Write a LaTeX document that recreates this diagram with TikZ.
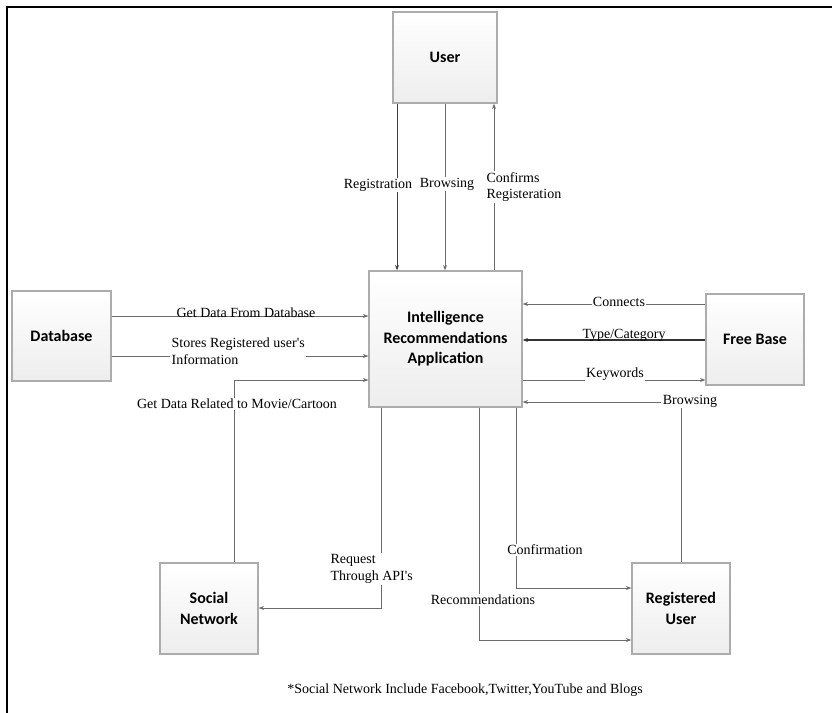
\documentclass[tikz,border=0pt]{standalone}
\usepackage{fontspec}
\setmainfont{Liberation Serif}
\newfontfamily\boxfont{Carlito}
\usetikzlibrary{arrows.meta,shadows}
\begin{document}
\begin{tikzpicture}[x=0.75pt,y=-0.75pt,
  box/.style={draw=gray!65,line width=1pt,top color=white,bottom color=gray!14,
    drop shadow={opacity=0.25,shadow xshift=1pt,shadow yshift=-1pt},
    font=\boxfont\bfseries\fontsize{12}{15.4}\selectfont,align=center,inner sep=2pt},
  conn/.style={draw=black!58,line width=0.6pt,-{Stealth[length=4pt,width=3pt]}},
  lab/.style={font=\fontsize{10.5}{12.5}\selectfont,inner sep=1pt},
  labw/.style={lab,fill=white},
]
\useasboundingbox (0,0) rectangle (832,713);
\draw[line width=1.8pt] (7,713) -- (7,7) -- (832,7);

\node[box,minimum width=78pt,minimum height=68.25pt] (user) at (445,57.5) {User};
\node[box,minimum width=114.75pt,minimum height=102pt] (app) at (445.5,339) {Intelligence\\Recommendations\\Application};
\node[box,minimum width=74.25pt,minimum height=67.5pt] (db) at (61.5,336) {Database};
\node[box,minimum width=73.5pt,minimum height=68.25pt] (fb) at (755,339.5) {Free Base};
\node[box,minimum width=73.5pt,minimum height=68.25pt] (sn) at (209,608.5) {Social\\Network};
\node[box,minimum width=73.5pt,minimum height=68.25pt] (ru) at (681,608.5) {Registered\\User};

% User <-> App
\draw[conn,draw=black!75] (397,0 |- user.south) -- (397,0 |- app.north);
\node[labw] (lreg) at (378,185) {Registration};
\draw[conn] (445,0 |- user.south) -- (445,0 |- app.north);
\node[labw] (lbrw) at (447,184) {Browsing};
\draw[conn] (494,0 |- app.north) -- (494,0 |- user.south);
\node[labw,anchor=west,align=left] (lconf) at (485,187) {Confirms\\Registeration};

% Database -> App
\draw[conn] (db.east |- 0,316) -- (app.west |- 0,316);
\node[lab] (lget) at (246,313) {Get Data From Database};
\draw[conn] (db.east |- 0,356) -- (app.west |- 0,356);
\node[labw,anchor=west,align=left] (lsto) at (170,351) {Stores Registered user\textquotesingle s\\Information};

% Social network -> App
\coordinate (c1) at (234,380);
\draw[conn] (234,0 |- sn.north) -- (c1) -- (app.west |- c1);
\node[labw] (lmov) at (237,404) {Get Data Related to Movie/Cartoon};

% Free Base <-> App
\draw[conn] (fb.west |- 0,304) -- (app.east |- 0,304);
\node[labw] (lcon) at (619,302) {Connects};
\draw[conn,draw=black!80,line width=1pt] (fb.west |- 0,340) -- (app.east |- 0,340);
\node[lab] (ltyp) at (624,335) {Type/Category};
\draw[conn] (app.east |- 0,380) -- (fb.west |- 0,380);
\node[labw] (lkey) at (615,374) {Keywords};

% Registered user -> App
\coordinate (c2) at (681,402);
\draw[conn] (ru.north) -- (c2) -- (app.east |- c2);
\node[labw] (lbr2) at (690,401) {Browsing};

% App -> Social network
\coordinate (c3) at (381,608);
\draw[conn] (381,0 |- app.south) -- (c3) -- (sn.east |- c3);
\node[labw,anchor=west,align=left] (lapi) at (329,569) {Request\\Through API\textquotesingle s};

% App -> Registered user
\coordinate (c4) at (516,588);
\draw[conn] (516,0 |- app.south) -- (c4) -- (ru.west |- c4);
\node[labw] (lcfm) at (545,550) {Confirmation};
\coordinate (c5) at (479,640);
\draw[conn] (479,0 |- app.south) -- (c5) -- (ru.west |- c5);
\node[labw] (lrec) at (483,600) {Recommendations};

\node[lab] (foot) at (465,690) {*Social Network Include Facebook,Twitter,YouTube and Blogs};
\end{tikzpicture}
\end{document}
